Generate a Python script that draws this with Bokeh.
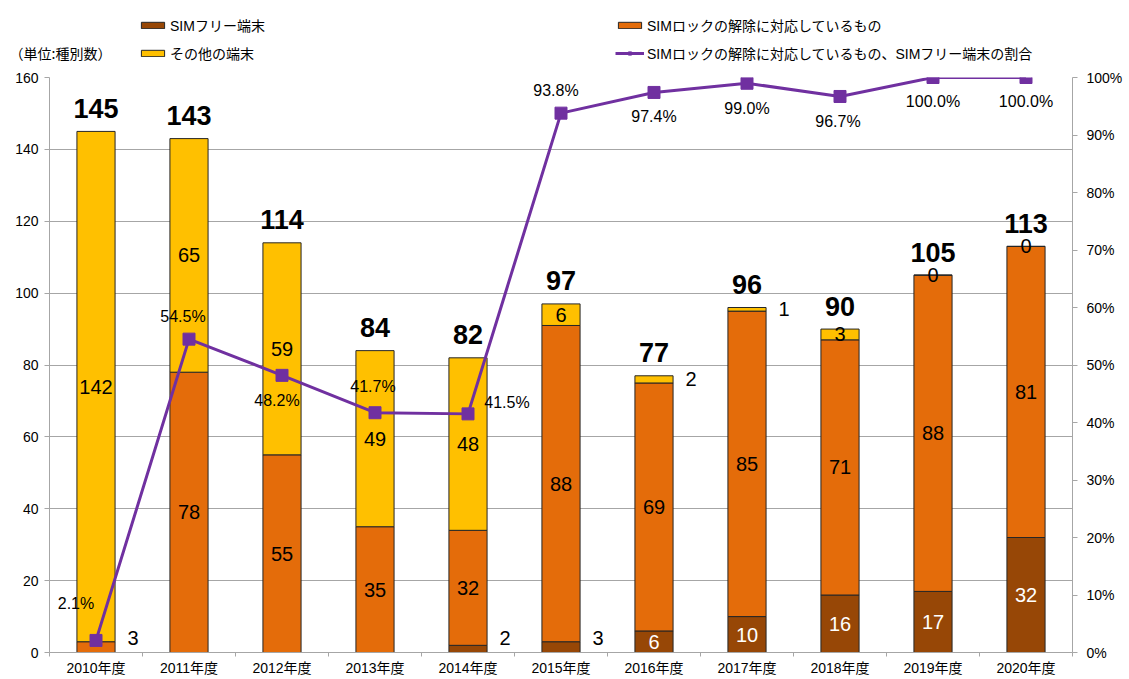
from bokeh.plotting import figure
from bokeh.layouts import column
from bokeh.models import (ColumnDataSource, Range1d, LinearAxis, FixedTicker,
                          PrintfTickFormatter, Legend, LegendItem)
from bokeh.core.properties import value
from bokeh.embed import file_html
from bokeh.resources import INLINE

# ---------------- data ----------------
years = ["2010年度", "2011年度", "2012年度", "2013年度", "2014年度", "2015年度",
         "2016年度", "2017年度", "2018年度", "2019年度", "2020年度"]
sim_free = [0, 0, 0, 0, 2, 3, 6, 10, 16, 17, 32]
unlocked = [3, 78, 55, 35, 32, 88, 69, 85, 71, 88, 81]
others = [142, 65, 59, 49, 48, 6, 2, 1, 3, 0, 0]
totals = [145, 143, 114, 84, 82, 97, 77, 96, 90, 105, 113]
ratio = [2.1, 54.5, 48.2, 41.7, 41.5, 93.8, 97.4, 99.0, 96.7, 100.0, 100.0]
ratio_labels = ["2.1%", "54.5%", "48.2%", "41.7%", "41.5%", "93.8%",
                "97.4%", "99.0%", "96.7%", "100.0%", "100.0%"]
y_ticks = [0, 20, 40, 60, 80, 100, 120, 140, 160]
pct_ticks = [0, 10, 20, 30, 40, 50, 60, 70, 80, 90, 100]
unit_text = "（単位:種別数）"
legend_names = ["SIMフリー端末", "その他の端末", "SIMロックの解除に対応しているもの",
                "SIMロックの解除に対応しているもの、SIMフリー端末の割合"]

# ---------------- style ----------------
C_FREE = "#974706"
C_UNLOCK = "#E46C0A"
C_OTHER = "#FFC000"
C_LINE = "#7030A0"
GRID = "#A6A6A6"
EDGE = "#262626"
FONT = "'Liberation Sans', 'Noto Sans CJK JP'"
FONT_CJK = "'Noto Sans CJK JP'"
free_out = [False, False, False, False, True, True, False, False, False, False, False]
unlock_out = [True, False, False, False, False, False, False, False, False, False, False]
other_out = [False, False, False, False, False, False, True, True, False, False, False]
pct_dx = [-20, -6, -5, -2, 39, -5, 0, 0, -2, 0, 0]
pct_dy = [-37, -23, 25, -26, -11, -23, 24, 25, 25, 24, 24]

n = len(years)
xs = [i + 0.5 for i in range(n)]
free_top = list(sim_free)
unlock_top = [a + b for a, b in zip(sim_free, unlocked)]
other_top = [a + b for a, b in zip(unlock_top, others)]

# ---------------- main chart ----------------
p = figure(width=1129, height=612, x_range=Range1d(0, n), y_range=Range1d(0, 160),
           output_backend="svg", toolbar_location=None,
           min_border_left=49, min_border_right=57, min_border_top=10, min_border_bottom=27)
p.outline_line_color = None
p.extra_y_ranges = {"pct": Range1d(0, 100)}

p.xaxis.ticker = FixedTicker(ticks=xs, minor_ticks=list(range(n + 1)))
p.xaxis.major_label_overrides = {x: y for x, y in zip(xs, years)}
p.xaxis.major_tick_out = 0
p.xaxis.major_tick_in = 0
p.xaxis.minor_tick_out = 4
p.xaxis.minor_tick_in = 0
p.xaxis.minor_tick_line_color = GRID
p.xaxis.axis_line_color = GRID
p.xaxis.major_label_standoff = 3
p.xaxis.major_label_text_font = FONT
p.xaxis.major_label_text_font_size = "14px"
p.xaxis.major_label_text_color = "black"

p.yaxis.ticker = FixedTicker(ticks=y_ticks)
p.yaxis.axis_line_color = GRID
p.yaxis.major_tick_line_color = GRID
p.yaxis.major_tick_out = 5
p.yaxis.major_tick_in = 0
p.yaxis.minor_tick_line_color = None
p.yaxis.major_label_standoff = 6
p.yaxis.major_label_text_font = FONT
p.yaxis.major_label_text_font_size = "14px"
p.yaxis.major_label_text_color = "black"

right = LinearAxis(y_range_name="pct", ticker=FixedTicker(ticks=pct_ticks),
                   formatter=PrintfTickFormatter(format="%d%%"))
right.axis_line_color = GRID
right.major_tick_line_color = GRID
right.major_tick_out = 5
right.major_tick_in = 0
right.minor_tick_line_color = None
right.major_label_standoff = 9
right.major_label_text_font = FONT
right.major_label_text_font_size = "14px"
right.major_label_text_color = "black"
p.add_layout(right, "right")

p.xgrid.visible = False
p.ygrid.ticker = FixedTicker(ticks=y_ticks)
p.ygrid.grid_line_color = GRID
p.ygrid.grid_line_width = 1

bw = 0.41
src = ColumnDataSource(dict(x=xs, f0=[0] * n, f1=free_top, u1=unlock_top, o1=other_top))
bar_specs = [("f0", "f1", C_FREE), ("f1", "u1", C_UNLOCK), ("u1", "o1", C_OTHER)]
for b, t, c in bar_specs:
    p.vbar(x="x", bottom=b, top=t, width=bw, source=src,
           fill_color=c, line_color=EDGE, line_width=1)

# segment labels
lx, ly, lt, lc, ldx = [], [], [], [], []
for i in range(n):
    segs = [
        (sim_free[i], 0, free_top[i], free_out[i], "white", sim_free[i] > 0),
        (unlocked[i], free_top[i], unlock_top[i], unlock_out[i], "black", True),
        (others[i], unlock_top[i], other_top[i], other_out[i], "black", True),
    ]
    for val, b, t, out, col, show in segs:
        if not show:
            continue
        mid = (b + t) / 2
        lx.append(xs[i])
        lt.append(str(val))
        if out:
            ly.append(max(mid, 4.0))
            lc.append("black")
            ldx.append(37)
        else:
            ly.append(mid)
            lc.append(col)
            ldx.append(0)
seg_src = ColumnDataSource(dict(x=lx, y=ly, t=lt, c=lc, dx=ldx))
p.text(x="x", y="y", text="t", source=seg_src, text_color="c", x_offset="dx",
       text_align="center", text_baseline="middle",
       text_font=value("Liberation Sans"), text_font_size="20px")

tot_src = ColumnDataSource(dict(x=xs, y=other_top, t=[str(v) for v in totals],
                                dy=[-23] * n))
p.text(x="x", y="y", text="t", source=tot_src, text_color="black", y_offset="dy",
       text_align="center", text_baseline="middle",
       text_font=value("Liberation Sans"), text_font_size="27px", text_font_style="bold")

line_src = ColumnDataSource(dict(x=xs, y=ratio, t=ratio_labels, dx=pct_dx, dy=pct_dy))
p.line(x="x", y="y", source=line_src, y_range_name="pct", line_color=C_LINE, line_width=3)
p.scatter(x="x", y="y", source=line_src, y_range_name="pct", marker="square",
          size=12, fill_color=C_LINE, line_color=C_LINE)
p.text(x="x", y="y", text="t", source=line_src, y_range_name="pct",
       x_offset="dx", y_offset="dy", text_align="center", text_baseline="middle",
       text_font=value("Liberation Sans"), text_font_size="16px", text_color="black")

# ---------------- header (legend + unit) ----------------
# its frame is aligned with the main frame (page x 49..1072), data x == page x
h = figure(width=1129, height=67, x_range=Range1d(49, 1072), y_range=Range1d(67, 0),
           output_backend="svg", toolbar_location=None, x_axis_type=None,
           min_border=0)
h.outline_line_color = None
h.ygrid.visible = False
h.yaxis.ticker = FixedTicker(ticks=[52])
h.yaxis.major_label_overrides = {52: unit_text}
h.yaxis.axis_line_color = None
h.yaxis.major_tick_line_color = None
h.yaxis.minor_tick_line_color = None
h.yaxis.major_tick_out = 0
h.yaxis.major_label_standoff = -62
h.yaxis.major_label_text_font = FONT_CJK
h.yaxis.major_label_text_font_size = "14px"
h.yaxis.major_label_text_color = "black"

# legend proxies (hidden copies of the chart series)
d_free = h.vbar(x="x", bottom="f0", top="f1", width=bw, source=src, visible=False,
                fill_color=C_FREE, line_color=EDGE)
d_unlock = h.vbar(x="x", bottom="f1", top="u1", width=bw, source=src, visible=False,
                  fill_color=C_UNLOCK, line_color=EDGE)
d_other = h.vbar(x="x", bottom="u1", top="o1", width=bw, source=src, visible=False,
                 fill_color=C_OTHER, line_color=EDGE)
d_line = h.line(x="x", y="y", source=line_src, visible=False, line_color=C_LINE, line_width=3)
d_mark = h.scatter(x="x", y="y", source=line_src, visible=False, marker="square",
                   size=12, fill_color=C_LINE, line_color=C_LINE)

leg_style = dict(glyph_width=29, glyph_height=8, label_height=21, spacing=7,
                 padding=0, margin=0, border_line_color=None, background_fill_alpha=0,
                 inactive_fill_alpha=0, click_policy="none",
                 label_standoff=3, label_text_font=FONT, label_text_font_size="14px",
                 label_text_color="black", label_text_baseline="middle")
leg1 = Legend(items=[LegendItem(label=legend_names[0], renderers=[d_free]),
                     LegendItem(label=legend_names[1], renderers=[d_other])],
              location=(89, 4), **leg_style)
leg2 = Legend(items=[LegendItem(label=legend_names[2], renderers=[d_unlock]),
                     LegendItem(label=legend_names[3], renderers=[d_line, d_mark])],
              location=(566, 4), **leg_style)
h.add_layout(leg1)
h.add_layout(leg2)

layout = column(h, p, spacing=0)
open("out.html", "w").write(file_html(layout, INLINE))
